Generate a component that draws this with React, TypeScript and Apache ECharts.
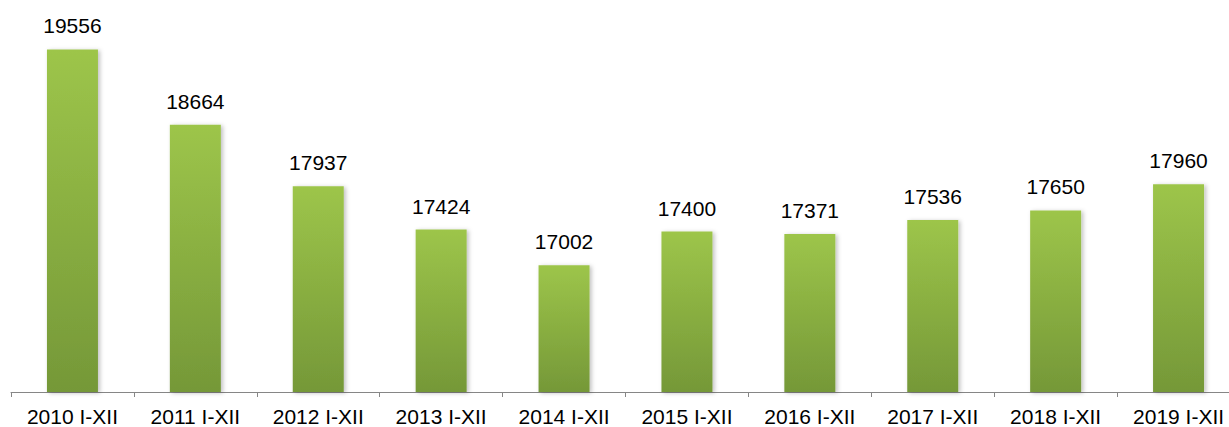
import React, { useEffect, useRef } from "react";
import * as echarts from "echarts";

const categories = [
  "2010 I-XII", "2011 I-XII", "2012 I-XII", "2013 I-XII", "2014 I-XII",
  "2015 I-XII", "2016 I-XII", "2017 I-XII", "2018 I-XII", "2019 I-XII",
];
const values = [19556, 18664, 17937, 17424, 17002, 17400, 17371, 17536, 17650, 17960];

export default function App() {
  const ref = useRef<HTMLDivElement>(null);
  useEffect(() => {
    if (!ref.current) return;
    const chart = echarts.init(ref.current, null, { renderer: "svg" });
    chart.setOption({
      animation: false,
      grid: { left: 11, width: 1229, top: 12, height: 380.5 },
      xAxis: {
        type: "category",
        data: categories,
        axisLine: { lineStyle: { color: "#868686", width: 1 } },
        axisTick: { show: true, length: 5, lineStyle: { color: "#868686" } },
        axisLabel: {
          color: "#000",
          fontSize: 21,
          fontFamily: "Liberation Sans, Arial, sans-serif",
          margin: 14,
          interval: 0,
        },
      },
      yAxis: {
        type: "value",
        min: 15500,
        max: 20000,
        show: false,
        splitLine: { show: false },
      },
      series: [
        {
          type: "bar",
          data: values,
          barWidth: 51,
          itemStyle: {
            color: new echarts.graphic.LinearGradient(0, 0, 0, 1, [
              { offset: 0, color: "#9dc54a" },
              { offset: 1, color: "#759838" },
            ]),
            shadowBlur: 4,
            shadowOffsetX: 2,
            shadowOffsetY: 1,
            shadowColor: "rgba(0,0,0,0.25)",
          },
          label: {
            show: true,
            position: "top",
            distance: 13,
            color: "#000",
            fontSize: 21,
            fontFamily: "Liberation Sans, Arial, sans-serif",
          },
        },
      ],
    });
    return () => chart.dispose();
  }, []);
  return (
    <div style={{ position: "absolute", left: 0, top: 0, width: 1229, height: 427, overflow: "hidden" }}>
      <div ref={ref} style={{ width: 1260, height: 427 }} />
    </div>
  );
}
